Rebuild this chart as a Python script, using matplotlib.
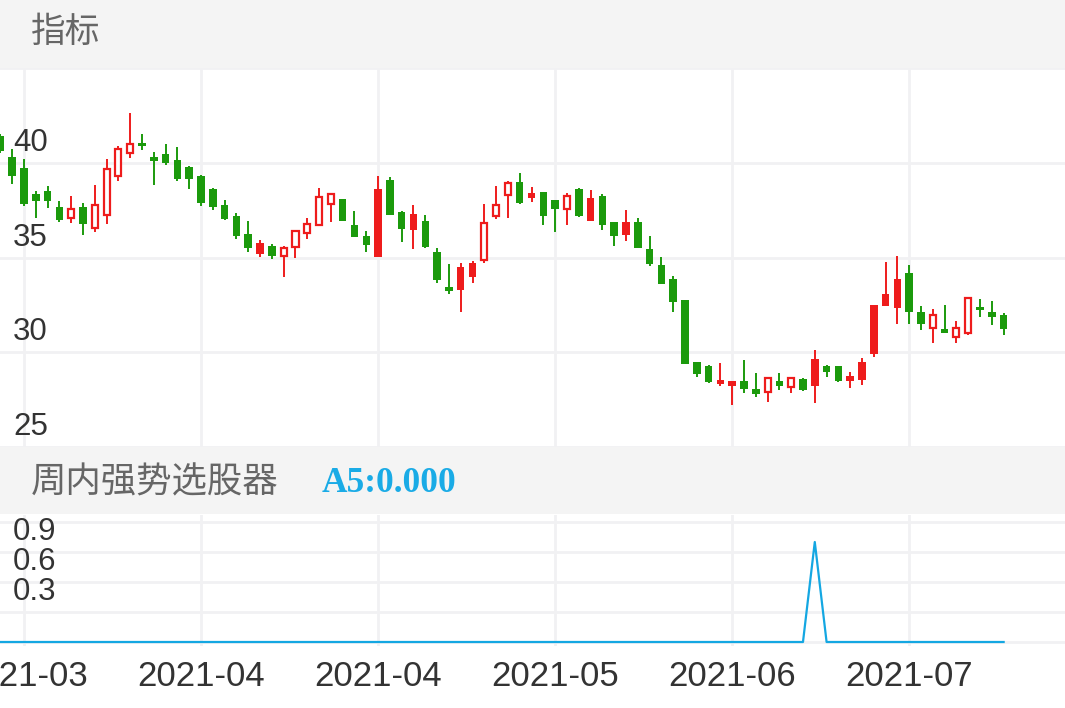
import matplotlib
matplotlib.use("Agg")
import matplotlib.pyplot as plt
from matplotlib.patches import Rectangle
from matplotlib.transforms import offset_copy

plt.rcParams['font.family'] = ['Liberation Sans', 'Noto Sans CJK SC', 'DejaVu Sans']

# K线数据 (开, 高, 低, 收)
opens = [41.4, 40.3, 39.7, 38.35, 38.5, 37.65, 37.1, 37.65, 36.55, 37.25,
         39.3, 40.5, 41.05, 40.3, 40.45, 40.15, 39.75, 39.3, 38.6, 37.75,
         37.2, 36.25, 35.2, 35.6, 35.1, 35.55, 36.3, 36.7, 37.8, 38.1,
         36.7, 36.15, 35.05, 39.1, 37.4, 36.45, 36.9, 35.3, 33.45, 33.3,
         33.95, 34.85, 37.2, 38.3, 39.0, 38.14, 38.44, 38.05, 37.56, 38.63,
         36.95, 38.26, 36.86, 36.21, 36.86, 35.46, 34.63, 33.84, 32.74, 29.51,
         29.25, 28.32, 28.23, 28.49, 28.05, 27.91, 28.49, 28.14, 28.58, 28.23,
         29.28, 29.25, 28.46, 28.53, 29.9, 32.44, 32.35, 34.19, 32.12, 31.3,
         31.25, 30.83, 31.0, 32.41, 32.14, 31.95]
highs = [41.5, 40.7, 40.2, 38.5, 38.75, 38.0, 38.25, 37.85, 38.85, 40.2,
         40.9, 42.6, 41.5, 40.55, 41.0, 40.85, 39.85, 39.35, 38.65, 38.05,
         37.35, 36.95, 35.9, 35.7, 35.6, 36.45, 37.1, 38.65, 38.4, 38.1,
         37.45, 36.4, 39.3, 39.25, 37.45, 37.75, 37.25, 35.5, 34.65, 34.7,
         34.8, 37.8, 38.75, 39.05, 39.45, 38.72, 38.44, 38.05, 38.4, 38.67,
         38.58, 38.35, 36.86, 37.49, 37.09, 36.16, 35.04, 34.05, 32.74, 29.51,
         29.32, 29.42, 28.49, 29.58, 28.93, 28.62, 28.89, 28.63, 28.63, 30.12,
         29.33, 29.28, 28.98, 29.72, 32.49, 34.77, 35.1, 34.58, 32.44, 32.26,
         32.47, 31.65, 32.88, 32.79, 32.7, 32.05]
lows = [40.5, 38.9, 37.7, 37.1, 37.6, 36.85, 36.8, 36.2, 36.35, 36.75,
        39.05, 40.25, 40.65, 38.8, 39.9, 39.05, 38.6, 37.7, 37.5, 37.0,
        36.0, 35.3, 35.05, 34.9, 33.95, 34.98, 35.95, 36.65, 36.85, 36.9,
        36.1, 35.3, 35.05, 37.25, 35.8, 35.45, 35.5, 33.65, 33.1, 32.1,
        33.65, 34.7, 37.05, 37.1, 37.8, 37.91, 36.74, 36.35, 36.7, 37.12,
        36.95, 36.44, 35.63, 35.89, 35.51, 34.54, 33.58, 32.14, 29.4, 28.72,
        28.37, 28.2, 27.23, 27.83, 27.62, 27.38, 28.02, 27.83, 27.96, 27.32,
        28.67, 28.44, 28.09, 28.28, 29.77, 32.44, 31.47, 31.47, 31.17, 30.47,
        31.04, 30.47, 30.89, 31.86, 31.44, 30.91]
closes = [40.6, 39.3, 37.8, 38.0, 38.0, 37.0, 37.55, 36.75, 37.75, 39.65,
          40.7, 41.0, 40.9, 40.1, 40.0, 39.15, 39.15, 37.85, 37.65, 37.05,
          36.15, 35.5, 35.75, 35.1, 35.5, 36.4, 36.75, 38.2, 38.35, 36.9,
          36.1, 35.65, 38.6, 37.25, 36.5, 37.3, 35.55, 33.8, 33.25, 34.5,
          34.7, 36.8, 37.75, 38.95, 37.9, 38.4, 37.17, 37.56, 38.23, 37.17,
          38.14, 36.74, 36.12, 36.86, 35.51, 34.68, 33.58, 32.67, 29.4, 28.84,
          28.44, 28.53, 28.49, 28.05, 27.79, 28.62, 28.23, 28.63, 28.02, 29.63,
          28.96, 28.49, 28.75, 29.49, 32.49, 33.05, 33.88, 32.12, 31.47, 31.95,
          31.04, 31.3, 32.84, 32.23, 31.86, 31.25]
# 空心阳线所在的K线序号
hollow_days = [6, 8, 9, 10, 11, 24, 25, 26, 27, 28, 41, 42, 43, 48, 65, 67, 79, 81, 82]

# 周内强势选股器 A5
a5 = [0, 0, 0, 0, 0, 0, 0, 0, 0, 0, 0, 0, 0, 0, 0, 0, 0, 0, 0, 0,
      0, 0, 0, 0, 0, 0, 0, 0, 0, 0, 0, 0, 0, 0, 0, 0, 0, 0, 0, 0,
      0, 0, 0, 0, 0, 0, 0, 0, 0, 0, 0, 0, 0, 0, 0, 0, 0, 0, 0, 0,
      0, 0, 0, 0, 0, 0, 0, 0, 0, 1, 0, 0, 0, 0, 0, 0, 0, 0, 0, 0,
      0, 0, 0, 0, 0, 0]

x_labels = ["2021-03", "2021-04", "2021-04", "2021-05", "2021-06", "2021-07"]
main_ticks = [25, 30, 35, 40]
sub_ticks = [0.3, 0.6, 0.9]

RED = '#ee1c1c'
GREEN = '#1b9a0c'
BLUE = '#14a7e2'
GRID = '#f1f1f3'
BAND = '#f4f4f4'

W, H = 1065, 708
fig = plt.figure(figsize=(W / 100, H / 100), dpi=100)

def fy(px):
    return 1 - px / H

# Faixas cinzas dos titulos
for top, bot in [(0, 68), (447, 514)]:
    fig.add_artist(Rectangle((0, fy(bot)), 1, (bot - top) / H, transform=fig.transFigure,
                             facecolor=BAND, edgecolor='none', zorder=0))
fig.text(31 / W, fy(32), "指标", fontsize=25, color='#666666', va='center',
         family=['Noto Sans CJK SC'])
fig.text(31 / W, fy(482), "周内强势选股器", fontsize=25.5, color='#666666', va='center',
         family=['Noto Sans CJK SC'])
fig.text(322 / W, fy(483), "A5:0.000", fontsize=25.5, color='#1aabe6', va='center',
         family=['Liberation Serif'], weight='bold')

xmin, xmax = -0.034, 90.2
tick_idx = list(range(2, len(closes), 15))

ax = fig.add_axes([0, fy(447), 1, 379 / H])
ax2 = fig.add_axes([0, fy(646), 1, 131 / H])

for a in (ax, ax2):
    a.set_xlim(xmin, xmax)
    for s in a.spines.values():
        s.set_visible(False)
    a.set_xticks(tick_idx)
    a.set_yticks([])
    a.tick_params(length=0)
    a.grid(False)
    for t in tick_idx:
        a.axvline(t, color=GRID, lw=2, zorder=0)

# Painel principal
ax.set_ylim(25, 45)
ax.set_xticklabels([])
for v in main_ticks + [45]:
    ax.axhline(v, color=GRID, lw=2, zorder=0)
lab_tr = offset_copy(ax.get_yaxis_transform(), fig=fig, x=0, y=12, units='dots')
for v in main_ticks:
    ax.text(13 / W, v, str(v), transform=lab_tr, fontsize=22.5, color='#333333',
            va='baseline', ha='left')

bw = 0.64
for i in range(len(closes)):
    o, h, l, c = opens[i], highs[i], lows[i], closes[i]
    col = RED if c > o else GREEN
    ax.vlines(i, l, h, color=col, lw=1.4, zorder=2)
    bottom = min(o, c)
    height = max(abs(c - o), 0.08)
    if i in hollow_days:
        ax.add_patch(Rectangle((i - bw / 2 + 0.06, bottom), bw - 0.12, height,
                               facecolor='white', edgecolor=col, lw=1.6, zorder=3))
    else:
        ax.add_patch(Rectangle((i - bw / 2, bottom), bw, height,
                               facecolor=col, edgecolor='none', zorder=3))

# Painel inferior
ax2.set_ylim(-0.04, 1.27)
for v in [0, 0.3, 0.6, 0.9, 1.2]:
    ax2.axhline(v, color=GRID, lw=2, zorder=0)
lab_tr2 = offset_copy(ax2.get_yaxis_transform(), fig=fig, x=0, y=12, units='dots')
for v in sub_ticks:
    ax2.text(13 / W, v, str(v), transform=lab_tr2, fontsize=22.5, color='#333333',
             va='baseline', ha='left')
ax2.plot(range(len(a5)), a5, color=BLUE, lw=1.6, zorder=3)
ax2.set_xticklabels(x_labels, fontsize=25, color='#333333')
ax2.tick_params(axis='x', pad=10)

fig.savefig("out.png", dpi=100, facecolor='white')
